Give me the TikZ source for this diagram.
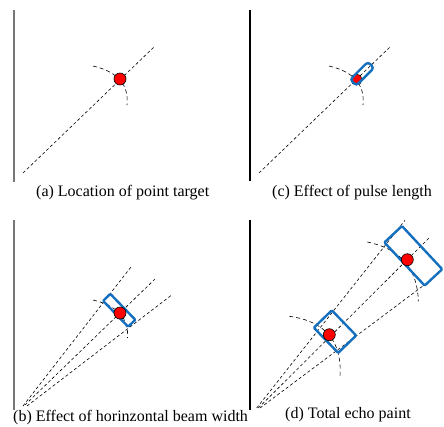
\documentclass[tikz,border=0pt]{standalone}
\usepackage{fontspec}
\setmainfont{Liberation Serif}
\definecolor{rectblue}{RGB}{20,112,190}
\definecolor{axisgray}{RGB}{118,118,118}
\begin{document}
\begin{tikzpicture}[x=1pt,y=-1pt,
  beam/.style={dash pattern=on 3pt off 2.4pt, line width=0.6pt},
  rangearc/.style={dash pattern=on 4pt off 3pt, line width=0.6pt},
  target/.style={circle, fill=red, draw=black, line width=0.6pt, minimum size=12pt, inner sep=0pt},
  cell/.style={draw=rectblue, line width=2.4pt, inner sep=0pt, rounded corners=1pt},
  caption/.style={anchor=base west, inner sep=0pt, font=\fontsize{16}{19}\selectfont},
  axisline/.style={line width=1.3pt}]
\useasboundingbox (0,0) rectangle (444,426);

% ---------- (a) ----------
\draw[axisline, axisgray] (14,10) -- (14,182);
\coordinate (aO) at (23,173);
\coordinate (aE) at (154,47);
\draw[beam] (aO) -- (aE);
\draw[rangearc] (93,66) .. controls (117.7,71.7) and (129,84.7) .. (127,105);
\node[target] (aT) at (120,79) {};
\node[caption] (aC) at (36,196) {(a) Location of point target};

% ---------- (c) ----------
\draw[axisline] (250,10) -- (250,181);
\coordinate (cO) at (259,173);
\coordinate (cE) at (390,47);
\draw[beam] (cO) -- (cE);
\draw[rangearc] (329,66) .. controls (353.7,71.7) and (365,84.7) .. (363,105);
\node[target, minimum size=11pt] (cT) at (356.5,79.5) {};
\node[cell, rounded corners=3pt, minimum width=25pt, minimum height=8.5pt, rotate=45] (cR) at (362.1,73.7) {};
\node[caption] (cC) at (272,196) {(c) Effect of pulse length};

% ---------- (b) ----------
\draw[axisline, axisgray] (14,220) -- (14,410);
\coordinate (bO1) at (23,406);
\coordinate (bO2) at (25,405);
\coordinate (bO3) at (27,406);
\coordinate (bE1) at (131.7,266);
\coordinate (bE2) at (155,279);
\coordinate (bE3) at (171.7,295);
\draw[beam] (bO1) -- (bE1);
\draw[beam] (bO2) -- (bE2);
\draw[beam] (bO3) -- (bE3);
\draw[rangearc] (93,300) .. controls (117.7,305.7) and (129,318.7) .. (127.5,338);
\node[cell, minimum width=36pt, minimum height=10pt, rotate=-46] (bR) at (119.2,310.3) {};
\node[target] (bT) at (120,313) {};
\node[caption] (bC) at (13,421) {(b) Effect of horinzontal beam width};

% ---------- (d) ----------
\draw[axisline] (250,220) -- (250,410);
\coordinate (dO1) at (256.7,408);
\coordinate (dO2) at (258.3,408);
\coordinate (dO3) at (260,408);
\coordinate (dE1) at (405,220.3);
\coordinate (dE2) at (430,237);
\coordinate (dE3) at (423.3,285.7);
\draw[beam] (dO1) -- (dE1);
\draw[beam] (dO2) -- (dE2);
\draw[beam] (dO3) -- (dE3);
\draw[rangearc] (289.3,316.3) .. controls (325.3,321.2) and (342.2,341.2) .. (340,376.3);
\draw[rangearc] (367.3,242) .. controls (400.6,248.9) and (417.6,268.7) .. (418.3,301.3);
\node[cell, minimum width=35pt, minimum height=25pt, rotate=-46] (dR1) at (335,331.6) {};
\node[cell, minimum width=59pt, minimum height=24pt, rotate=-47] (dR2) at (413.3,255.8) {};
\node[target] (dT1) at (329.3,334.7) {};
\node[target] (dT2) at (407.3,259.7) {};
\node[caption] (dC) at (285,418) {(d) Total echo paint};
\end{tikzpicture}
\end{document}
